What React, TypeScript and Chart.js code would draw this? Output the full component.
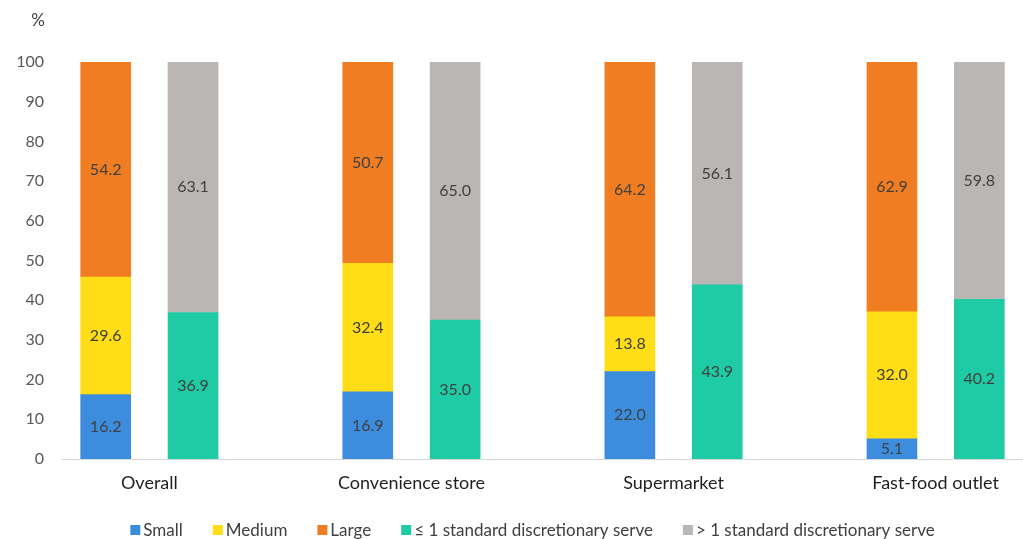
import React, { useEffect, useRef } from "react";
import { Chart, registerables } from "chart.js";

Chart.register(...registerables);

// Outlet groups shown along the x axis
const categories = ["Overall", "Convenience store", "Supermarket", "Fast-food outlet"];

// Portion size shares (%), left bar of each group
const small = [16.2, 16.9, 22.0, 5.1];
const medium = [29.6, 32.4, 13.8, 32.0];
const large = [54.2, 50.7, 64.2, 62.9];

// Discretionary serve shares (%), right bar of each group
const upToOneServe = [36.9, 35.0, 43.9, 40.2];
const overOneServe = [63.1, 65.0, 56.1, 59.8];

const yTicks = [0, 10, 20, 30, 40, 50, 60, 70, 80, 90, 100];

const COLORS = {
  small: "#3d8ddf",
  medium: "#ffdd17",
  large: "#f17d23",
  upToOne: "#1fcba5",
  overOne: "#bab6b4",
};

const FONT = "Lato, 'Open Sans', sans-serif";
const TEXT = "#404040";

// Each group occupies three slots: size bar, serve bar, spacer
const SLOTS_PER_GROUP = 3;
const slotCount = categories.length * SLOTS_PER_GROUP - 1;
const slotLabels = Array.from({ length: slotCount }, (_, i) => String(i));

function toSlots(values: number[], offset: number): (number | null)[] {
  const out: (number | null)[] = new Array(slotCount).fill(null);
  values.forEach((v, i) => {
    out[i * SLOTS_PER_GROUP + offset] = v;
  });
  return out;
}

const overlayPlugin = {
  id: "overlay",
  afterDatasetsDraw(chart: any) {
    const { ctx } = chart;
    ctx.save();
    ctx.font = `16px ${FONT}`;
    ctx.fillStyle = TEXT;
    ctx.textAlign = "center";
    ctx.textBaseline = "middle";
    chart.data.datasets.forEach((ds: any, di: number) => {
      const meta = chart.getDatasetMeta(di);
      meta.data.forEach((el: any, i: number) => {
        const v = ds.data[i];
        if (v == null) return;
        const { x, y, base } = el.getProps(["x", "y", "base"], true);
        ctx.fillText(v.toFixed(1), x, (y + base) / 2);
      });
    });
    ctx.restore();
  },
  afterDraw(chart: any) {
    const { ctx, chartArea } = chart;
    const xs = chart.scales.x;
    ctx.save();

    // Unit label above the y axis
    ctx.font = `17px ${FONT}`;
    ctx.fillStyle = TEXT;
    ctx.textAlign = "right";
    ctx.textBaseline = "middle";
    ctx.fillText("%", 45, 21);

    // Group labels centred under each pair of bars
    ctx.font = `18px ${FONT}`;
    ctx.fillStyle = "#1f1f1f";
    ctx.textAlign = "center";
    categories.forEach((c, i) => {
      const a = xs.getPixelForValue(i * SLOTS_PER_GROUP);
      const b = xs.getPixelForValue(i * SLOTS_PER_GROUP + 1);
      ctx.fillText(c, (a + b) / 2, chartArea.bottom + 24);
    });

    // Legend row
    ctx.font = `17px ${FONT}`;
    const box = 10;
    const gapText = 3;
    const gapItem = 30;
    const items = chart.data.datasets.map((d: any) => ({
      label: d.label,
      color: d.backgroundColor,
      w: box + gapText + ctx.measureText(d.label).width,
    }));
    const total = items.reduce((s: number, it: any) => s + it.w, 0) + gapItem * (items.length - 1);
    let x = (chartArea.left + chartArea.right) / 2 - total / 2 - 10;
    const ly = 530;
    ctx.textAlign = "left";
    ctx.textBaseline = "middle";
    items.forEach((it: any) => {
      ctx.fillStyle = it.color;
      ctx.fillRect(x, ly - box / 2, box, box);
      ctx.fillStyle = TEXT;
      ctx.fillText(it.label, x + box + gapText, ly + 1);
      x += it.w + gapItem;
    });
    ctx.restore();
  },
};

export default function App() {
  const canvasRef = useRef<HTMLCanvasElement | null>(null);

  useEffect(() => {
    const canvas = canvasRef.current;
    if (!canvas) return;
    const chart = new Chart(canvas, {
      type: "bar",
      data: {
        labels: slotLabels,
        datasets: [
          { label: "Small", data: toSlots(small, 0), backgroundColor: COLORS.small },
          { label: "Medium", data: toSlots(medium, 0), backgroundColor: COLORS.medium },
          { label: "Large", data: toSlots(large, 0), backgroundColor: COLORS.large },
          { label: "≤ 1 standard discretionary serve", data: toSlots(upToOneServe, 1), backgroundColor: COLORS.upToOne },
          { label: "> 1 standard discretionary serve", data: toSlots(overOneServe, 1), backgroundColor: COLORS.overOne },
        ],
      },
      options: {
        animation: false,
        responsive: false,
        maintainAspectRatio: false,
        layout: { padding: { top: 62, right: 0, bottom: 0, left: 0 } },
        datasets: { bar: { barThickness: 50, borderWidth: 0 } },
        plugins: {
          legend: { display: false },
          tooltip: { enabled: false },
          title: { display: false },
        },
        scales: {
          x: {
            stacked: true,
            grid: { display: false, drawTicks: false },
            border: { display: true, color: "#d9d9d9", width: 1 },
            ticks: { display: false },
            afterFit: (scale: any) => {
              scale.height = 80;
            },
          },
          y: {
            stacked: true,
            min: 0,
            max: 100,
            afterBuildTicks: (scale: any) => {
              scale.ticks = yTicks.map((v) => ({ value: v }));
            },
            grid: { display: false, drawTicks: false },
            border: { display: false },
            ticks: {
              padding: 18,
              color: "#595959",
              font: { family: FONT, size: 16 },
            },
            afterFit: (scale: any) => {
              scale.width = 62;
            },
          },
        },
      },
      plugins: [overlayPlugin],
    });
    return () => chart.destroy();
  }, []);

  return (
    <div style={{ position: "fixed", left: 0, top: 0, width: 1023, height: 539, background: "#fff" }}>
      <canvas ref={canvasRef} width={1023} height={539} style={{ display: "block" }} />
    </div>
  );
}
